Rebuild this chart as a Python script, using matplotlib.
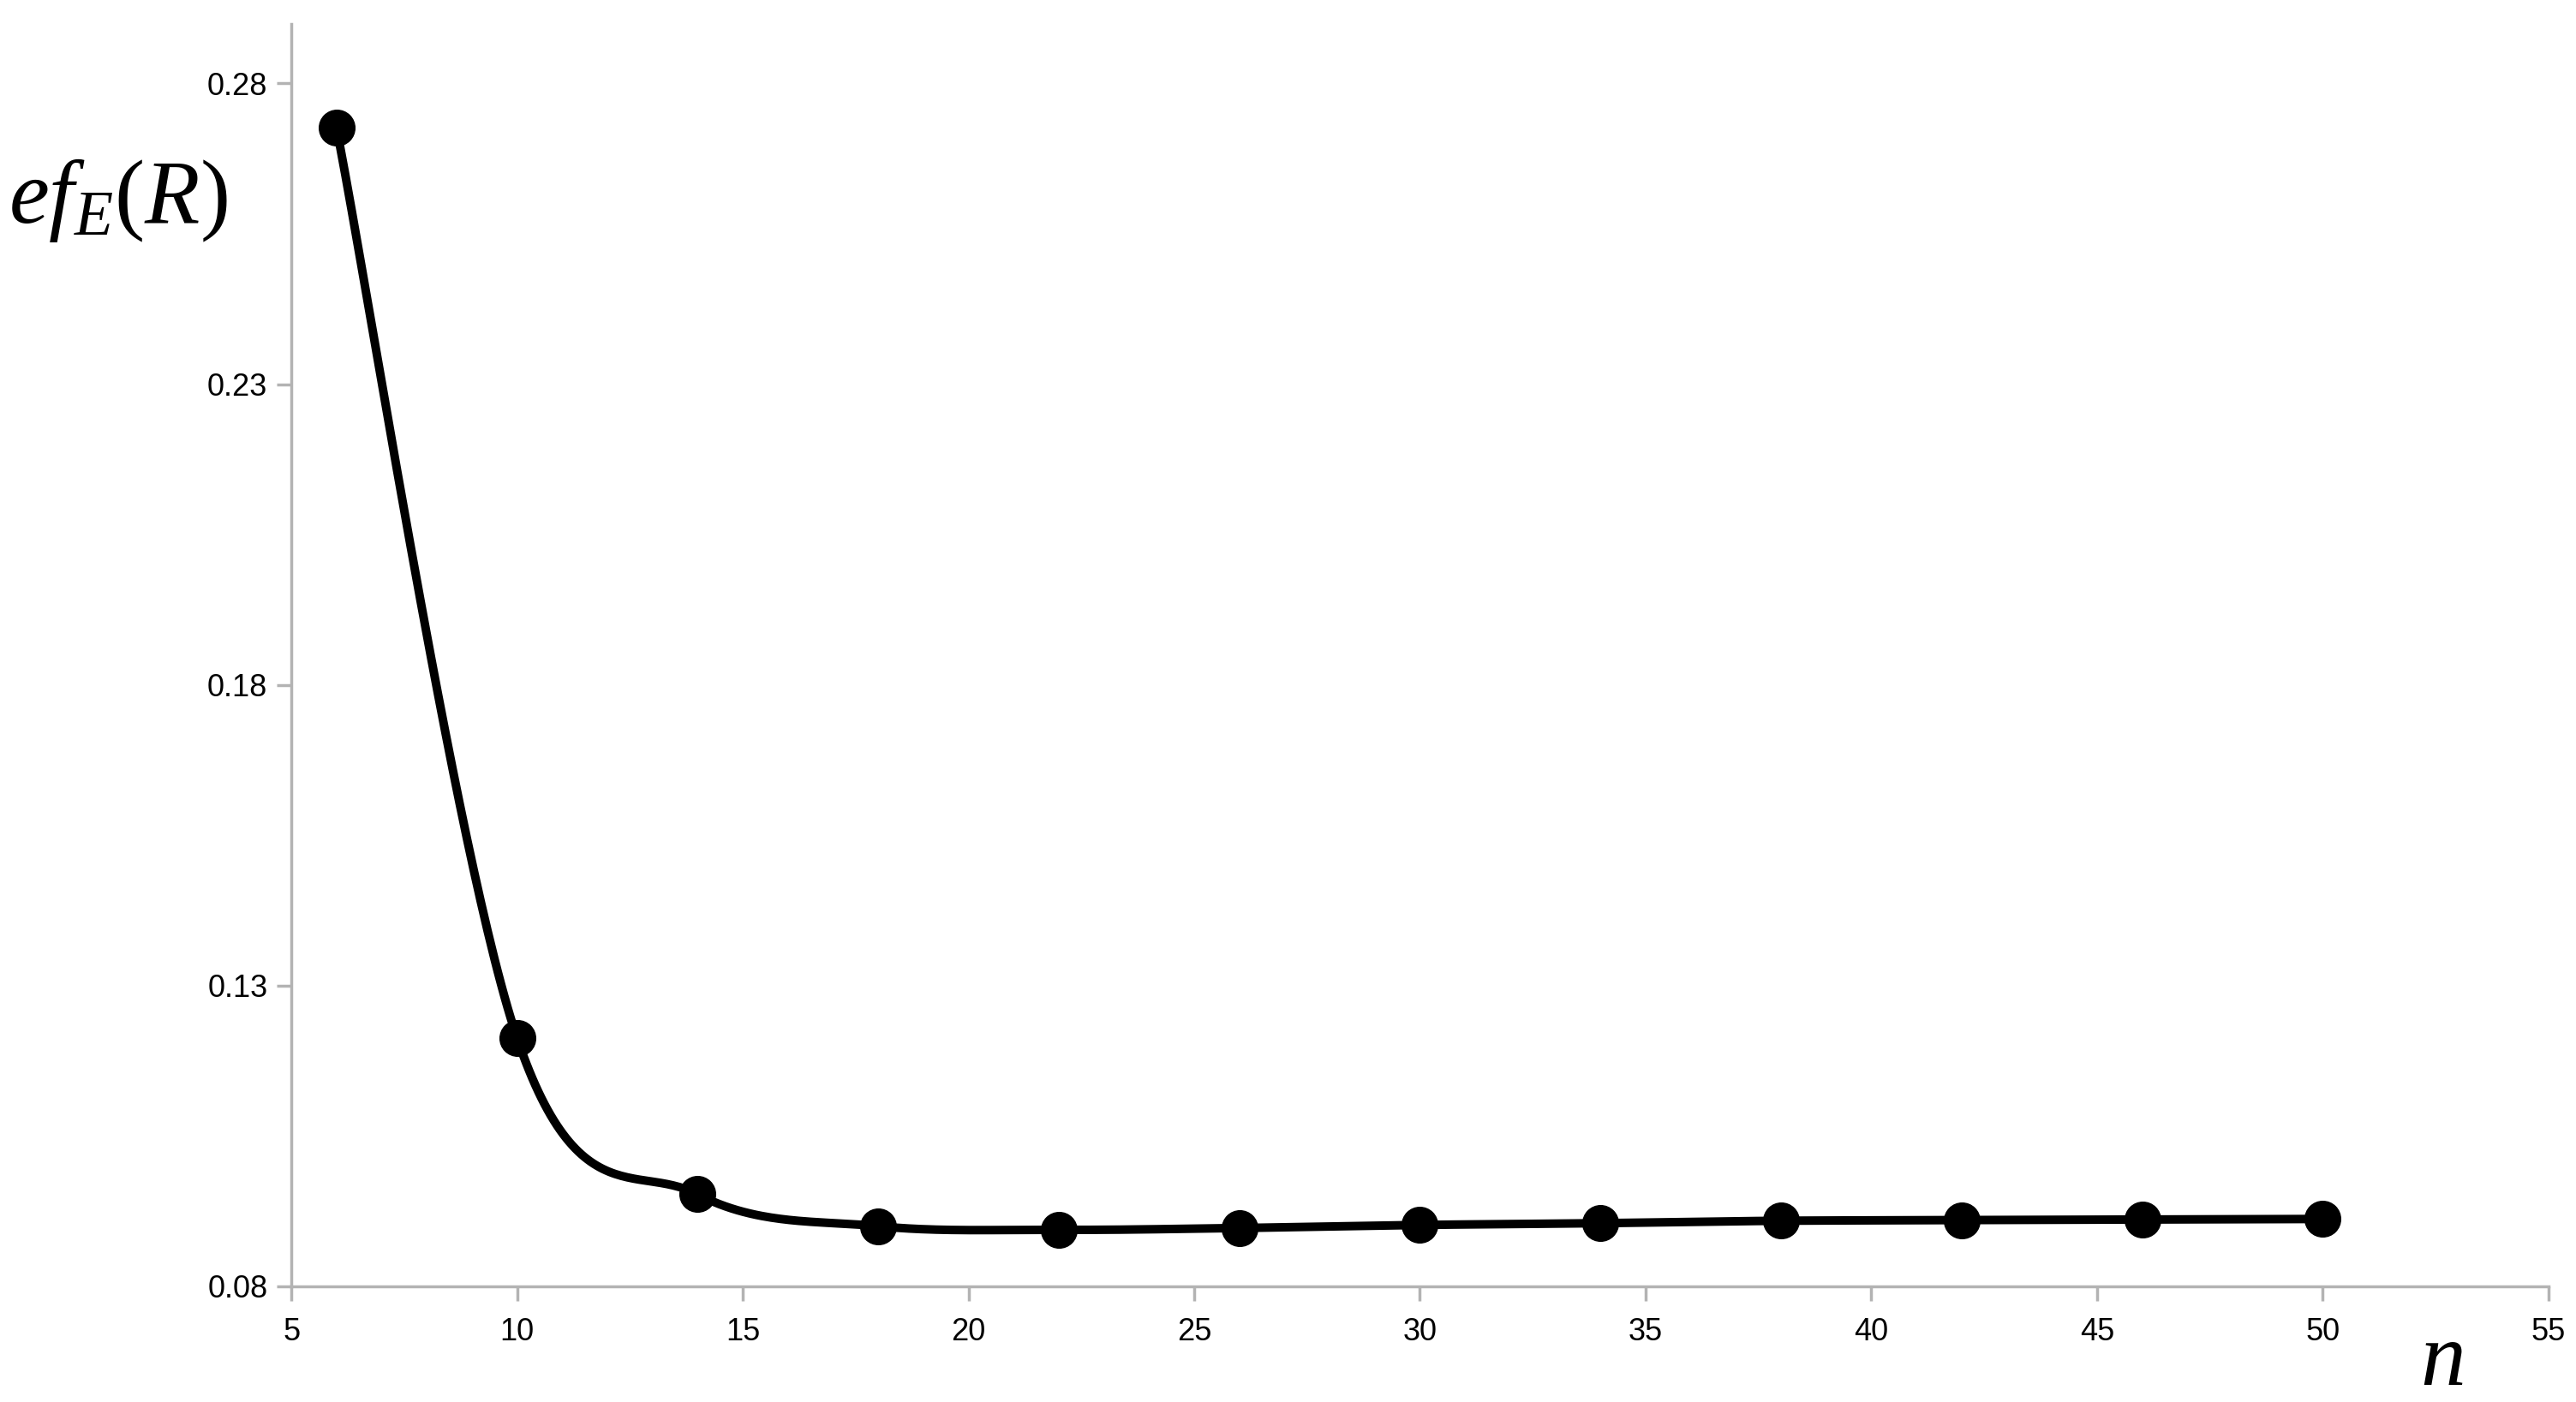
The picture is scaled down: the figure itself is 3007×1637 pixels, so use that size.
import matplotlib
matplotlib.use("Agg")
import matplotlib.pyplot as plt
import numpy as np

# valores
n = [6, 10, 14, 18, 22, 26, 30, 34, 38, 42, 46, 50]
ef = [0.2726, 0.1213, 0.0953, 0.0900, 0.0894, 0.0897, 0.0902, 0.0905, 0.0909, 0.0910, 0.0911, 0.0912]

x_ticks = [5, 10, 15, 20, 25, 30, 35, 40, 45, 50, 55]
y_ticks = [0.08, 0.13, 0.18, 0.23, 0.28]


# curva suavizada (Bezier / Catmull-Rom, como no Excel)
def suavizar(xs, ys, passos=60):
    p = np.column_stack([xs, ys]).astype(float)
    p = np.vstack([p[0], p, p[-1]])
    saida = []
    for i in range(1, len(p) - 2):
        p0, p1, p2, p3 = p[i - 1], p[i], p[i + 1], p[i + 2]
        c1 = p1 + (p2 - p0) / 6.0
        c2 = p2 - (p3 - p1) / 6.0
        t = np.linspace(0, 1, passos)[:, None]
        b = ((1 - t) ** 3) * p1 + 3 * ((1 - t) ** 2) * t * c1 + 3 * (1 - t) * t ** 2 * c2 + t ** 3 * p2
        saida.append(b)
    b = np.vstack(saida)
    return b[:, 0], b[:, 1]


plt.rcParams['mathtext.fontset'] = 'custom'
plt.rcParams['mathtext.rm'] = 'Liberation Serif'
plt.rcParams['mathtext.it'] = 'Liberation Serif:italic'

fig = plt.figure(figsize=(30.07, 16.37), dpi=100)
ax = fig.add_axes([0.1131, 0.0825, 0.8762, 0.9005])

cx, cy = suavizar(n, ef)
ax.plot(cx, cy, color='black', lw=7.2, solid_capstyle='round', zorder=2)
ax.plot(n, ef, 'o', color='black', markersize=30, zorder=3)

ax.set_xlim(5, 55)
ax.set_ylim(0.08, 0.2899)
ax.set_xticks(x_ticks)
ax.set_yticks(y_ticks)
ax.set_xticklabels([str(v) for v in x_ticks])
ax.set_yticklabels(['%.2f' % v for v in y_ticks])

cinza = '#b3b3b3'
for lado in ['top', 'right']:
    ax.spines[lado].set_visible(False)
for lado in ['left', 'bottom']:
    ax.spines[lado].set_color(cinza)
    ax.spines[lado].set_linewidth(2.5)
ax.tick_params(axis='both', direction='out', length=12, width=2.5, color=cinza,
               labelsize=26, labelfontfamily='Liberation Sans', labelcolor='black')
ax.tick_params(axis='x', pad=14)
ax.tick_params(axis='y', pad=8)

fig.text(0.046, 0.857, r'$ef_E(R)$', fontsize=76, ha='center', va='center')
fig.text(0.948, 0.030, r'$n$', fontsize=76, ha='center', va='center')

fig.savefig('out.png', dpi=100)
